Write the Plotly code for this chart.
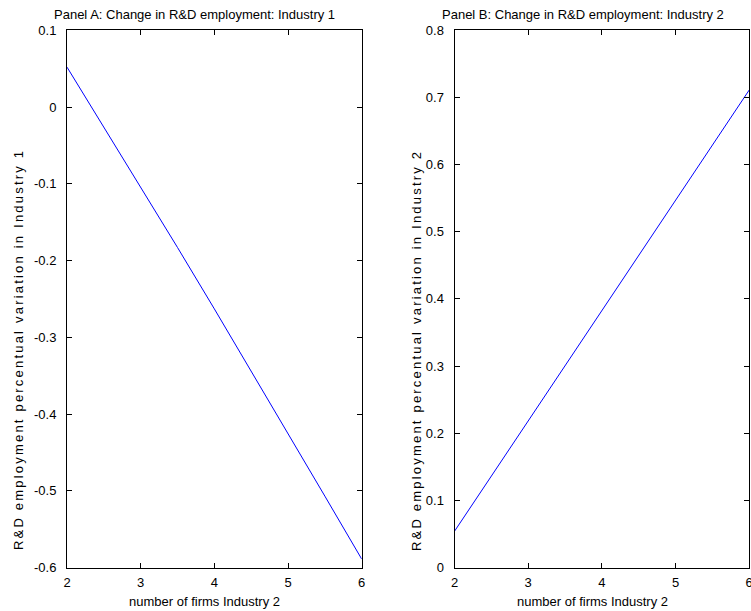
import plotly.graph_objects as go

# Number of firms in Industry 2 (horizontal axis for both panels)
firms_industry2 = [2.0, 2.5, 3.0, 3.5, 4.0, 4.5, 5.0, 5.5, 6.0]

# Percentual variation of R&D employment
rd_change_industry1 = [0.052, -0.026, -0.104, -0.183, -0.263, -0.344, -0.425, -0.507, -0.589]
rd_change_industry2 = [0.054, 0.136, 0.218, 0.300, 0.382, 0.464, 0.546, 0.629, 0.711]

# Tick values and labels
x_tickvals = [2, 3, 4, 5, 6]
x_ticktext = ["2", "3", "4", "5", "6"]
y1_tickvals = [0.1, 0.0, -0.1, -0.2, -0.3, -0.4, -0.5, -0.6]
y1_ticktext = ["0.1", "0", "-0.1", "-0.2", "-0.3", "-0.4", "-0.5", "-0.6"]
y2_tickvals = [0.0, 0.1, 0.2, 0.3, 0.4, 0.5, 0.6, 0.7, 0.8]
y2_ticktext = ["0", "0.1", "0.2", "0.3", "0.4", "0.5", "0.6", "0.7", "0.8"]

panel_titles = [
    "Panel A: Change in R&D employment: Industry 1",
    "Panel B: Change in R&D employment: Industry 2",
]
x_title = "number of firms Industry 2"
y_titles = [
    "R&D employment percentual variation in Industry 1",
    "R&D employment percentual variation in Industry 2",
]

W, H = 751, 611
FONT = "Liberation Sans, Arial, Helvetica, sans-serif"

fig = go.Figure()
fig.add_trace(go.Scatter(x=firms_industry2, y=rd_change_industry1, mode="lines",
                         line=dict(color="#0000ff", width=1), xaxis="x", yaxis="y",
                         showlegend=False))
fig.add_trace(go.Scatter(x=firms_industry2, y=rd_change_industry2, mode="lines",
                         line=dict(color="#0000ff", width=1), xaxis="x2", yaxis="y2",
                         showlegend=False))

y_dom = [1 - 567.5 / H, 1 - 30.3 / H]
left_dom = [67.0 / W, 361.7 / W]
right_dom = [454.5 / W, 749.2 / W]

axis_common = dict(
    showline=True, linecolor="black", linewidth=1, mirror="ticks",
    ticks="inside", ticklen=5, tickwidth=1, tickcolor="black",
    showgrid=False, zeroline=False, automargin=False,
    tickfont=dict(family=FONT, size=13, color="black"),
)

fig.update_layout(
    width=W, height=H,
    margin=dict(l=0, r=0, t=0, b=0),
    paper_bgcolor="white", plot_bgcolor="white",
    xaxis=dict(domain=left_dom, range=[2, 6], anchor="y",
               tickvals=x_tickvals, ticktext=x_ticktext, ticklabelstandoff=3,
               ticklabeloverflow="allow", **axis_common),
    yaxis=dict(domain=y_dom, range=[-0.6, 0.1], anchor="x",
               tickvals=y1_tickvals, ticktext=y1_ticktext, ticklabelstandoff=7, **axis_common),
    xaxis2=dict(domain=right_dom, range=[2, 6], anchor="y2",
                tickvals=x_tickvals, ticktext=x_ticktext, ticklabelstandoff=3,
                ticklabeloverflow="allow", **axis_common),
    yaxis2=dict(domain=y_dom, range=[0, 0.8], anchor="x2",
                tickvals=y2_tickvals, ticktext=y2_ticktext, ticklabelstandoff=7, **axis_common),
)

text_font = dict(family=FONT, size=13, color="black")

annotations = []
for cx, title in zip([194, 583], panel_titles):
    annotations.append(dict(text=title, x=cx / W, y=1 - 14 / H, xref="paper", yref="paper",
                            xanchor="center", yanchor="middle", showarrow=False, font=text_font))
for cx in [204, 592]:
    annotations.append(dict(text=x_title, x=cx / W, y=1 - 601 / H, xref="paper", yref="paper",
                            xanchor="center", yanchor="middle", showarrow=False, font=text_font))
for cx, title in zip([18, 416], y_titles):
    annotations.append(dict(text='<span style="letter-spacing:2.2px">' + title + "</span>",
                            x=cx / W, y=1 - 350 / H, xref="paper", yref="paper", textangle=-90,
                            xanchor="center", yanchor="middle", showarrow=False, font=text_font))
fig.update_layout(annotations=annotations)

fig.write_html("out.html")
